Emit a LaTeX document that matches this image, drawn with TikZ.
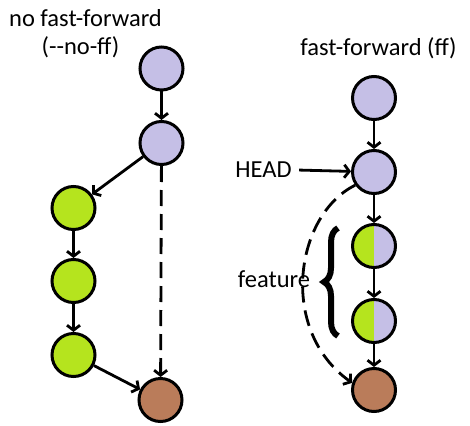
\documentclass[tikz,border=0pt]{standalone}
\usepackage{fontspec}
\setmainfont{Carlito}
\usepackage{tikz}
\usetikzlibrary{arrows.meta, decorations.pathreplacing}

\definecolor{lilac}{RGB}{197,191,230}
\definecolor{lime}{RGB}{181,228,30}
\definecolor{clay}{RGB}{186,124,90}

\tikzset{
  commit/.style = {circle, draw, line width = 3pt, minimum size = 43pt, inner sep = 0pt},
  half/.style = {fill = lilac, path picture = {
      \fill [lime] (path picture bounding box.north west) rectangle (path picture bounding box.south);}},
  link/.style = {line width = 2.8pt, -{Straight Barb[length = 5pt, width = 13pt]}},
  gap/.style = {dash pattern = on 16pt off 8pt}
}

\begin{document}
\begin{tikzpicture}[x = 1pt, y = -1pt, font = \fontsize{24.5}{29}\selectfont]
      \useasboundingbox (0, 0) rectangle (470, 425);
      % no fast-forward
      \node [anchor = base] (titleA) at (85.5, 27) {no fast-forward};
      \node [anchor = base] (titleB) at (80.5, 55) {(-\kern0pt-no-ff)};
      \node [commit, fill = lilac] (a1) at (161.5, 68.5) {};
      \node [commit, fill = lilac] (a2) at (161.5, 143) {};
      \foreach \n/\y in {1/208, 2/281, 3/355}{
        \node [commit, fill = lime] (g\n) at (73.5, \y) {};
      }
      \node [commit, fill = clay] (a3) at (160.5, 400) {};
      \draw [link] (a1) -- (a2);
      \draw [link] (a2) -- (g1);
      \draw [link] (g1) -- (g2);
      \draw [link] (g2) -- (g3);
      \draw [link] (g3) -- (a3);
      \draw [link, gap] (a2) -- (a3);
      % fast-forward
      \node [anchor = base] (titleC) at (378.5, 56) {fast-forward (ff)};
      \node [commit, fill = lilac] (b1) at (374, 98) {};
      \node [commit, fill = lilac] (head) at (374, 172) {};
      \node [commit, half] (f1) at (374, 246) {};
      \node [commit, half] (f2) at (374, 321) {};
      \node [commit, fill = clay] (b2) at (374, 390) {};
      \node [anchor = base] (headlabel) at (263.5, 177) {HEAD};
      \node [anchor = base] (featurelabel) at (274, 287) {feature};
      \draw [link, shorten <= 4pt] (headlabel) -- (head);
      \draw [link] (b1) -- (head);
      \draw [link] (head) -- (f1);
      \draw [link] (f1) -- (f2);
      \draw [link] (f2) -- (b2);
      \draw [link, gap] (head.215) .. controls (295, 215) and (278, 330) .. (b2.162);
      \draw [line width = 6pt, decorate, decoration = {brace, amplitude = 14pt}] (338, 336) -- (338, 228);
    \end{tikzpicture}
\end{document}
